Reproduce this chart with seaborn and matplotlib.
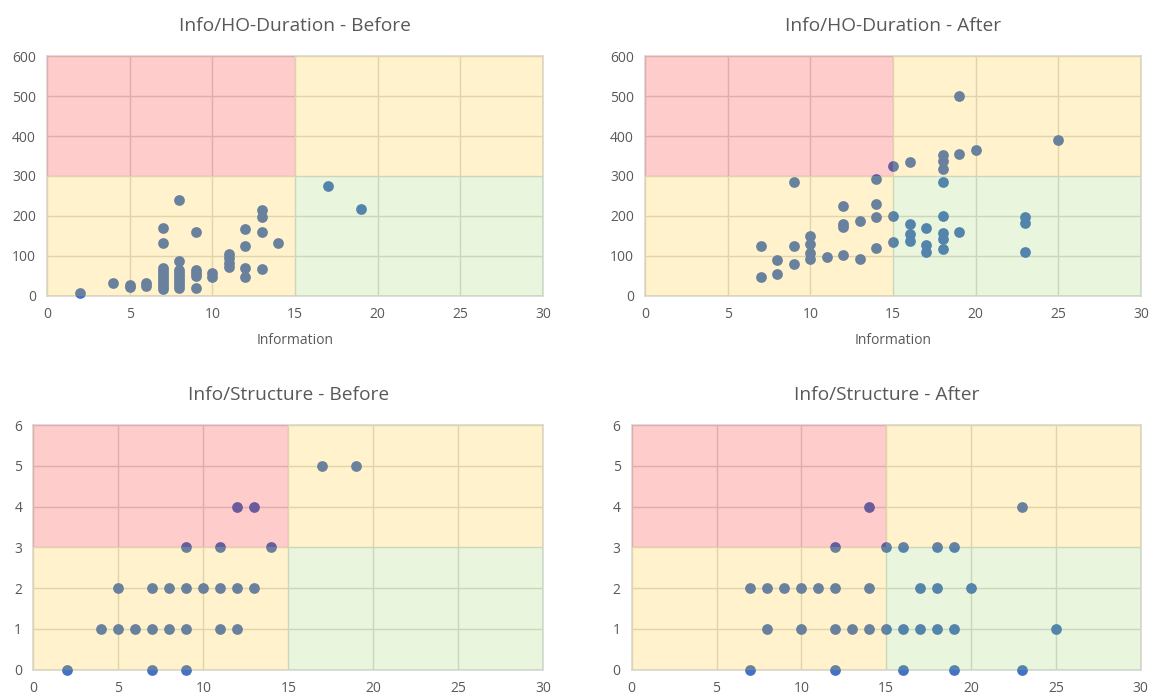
import matplotlib.pyplot as plt
import pandas as pd
import seaborn as sns
from matplotlib.patches import Rectangle

sns.set_theme(style='white')
plt.rcParams['font.family'] = ['Open Sans', 'DejaVu Sans']

# Info / HO-Duration - Before
dur_before_x = [2, 4, 5, 5, 6, 6,
                7, 7, 7, 7, 7, 7, 7, 7, 7, 7,
                8, 8, 8, 8, 8, 8, 8, 8, 8,
                9, 9, 9, 9, 9,
                10, 10,
                11, 11, 11, 11,
                12, 12, 12, 12,
                13, 13, 13, 13,
                14, 17, 19]
dur_before_y = [8, 32, 22, 28, 25, 32,
                170, 132, 70, 62, 55, 48, 40, 32, 25, 18,
                240, 87, 65, 58, 50, 42, 35, 28, 20,
                160, 65, 58, 50, 20,
                57, 47,
                105, 95, 82, 72,
                168, 125, 70, 48,
                215, 198, 160, 67,
                133, 275, 217]

# Info / HO-Duration - After
dur_after_x = [7, 7, 8, 8, 9, 9, 9,
               10, 10, 10, 10, 11,
               12, 12, 12, 12, 13, 13,
               14, 14, 14, 14, 15, 15, 15,
               16, 16, 16, 16, 17, 17, 17,
               18, 18, 18, 18, 18, 18, 18, 18,
               19, 19, 19, 20, 23, 23, 23, 25]
dur_after_y = [48, 125, 55, 90, 285, 125, 80,
               150, 130, 108, 92, 97,
               226, 180, 172, 102, 188, 92,
               292, 230, 198, 121, 325, 200, 135,
               335, 180, 155, 137, 170, 128, 110,
               352, 338, 317, 285, 200, 158, 142, 118,
               500, 355, 160, 366, 198, 182, 110, 390]

# Info / Structure - Before
struct_before_x = [17, 19, 12, 13, 9, 11, 14,
                   5, 7, 8, 9, 10, 11, 12, 13,
                   4, 5, 6, 7, 8, 9, 11, 12,
                   2, 7, 9]
struct_before_y = [5, 5, 4, 4, 3, 3, 3,
                   2, 2, 2, 2, 2, 2, 2, 2,
                   1, 1, 1, 1, 1, 1, 1, 1,
                   0, 0, 0]

# Info / Structure - After
struct_after_x = [14, 23,
                  12, 15, 16, 18, 19,
                  7, 8, 9, 10, 11, 12, 14, 17, 18, 20,
                  8, 10, 12, 13, 14, 15, 16, 17, 18, 19, 25,
                  7, 12, 16, 19, 23]
struct_after_y = [4, 4,
                  3, 3, 3, 3, 3,
                  2, 2, 2, 2, 2, 2, 2, 2, 2, 2,
                  1, 1, 1, 1, 1, 1, 1, 1, 1, 1, 1,
                  0, 0, 0, 0, 0]

GREY = '#595959'
POINT = '#4472C4'


def draw_panel(ax, xs, ys, title, ymax, ystep, xlabel=None):
    df = pd.DataFrame({'x': xs, 'y': ys})
    sns.scatterplot(data=df, x='x', y='y', ax=ax, color=POINT, s=60,
                    linewidth=0, zorder=3, clip_on=False)
    ysplit = ymax / 2
    # coloured zones laid over the points, like the original
    ax.add_patch(Rectangle((0, ysplit), 15, ymax - ysplit,
                           color='#FF0000', alpha=0.2, lw=0, zorder=5))
    ax.add_patch(Rectangle((0, 0), 15, ysplit,
                           color='#FFC000', alpha=0.2, lw=0, zorder=5))
    ax.add_patch(Rectangle((15, ysplit), 15, ymax - ysplit,
                           color='#FFC000', alpha=0.2, lw=0, zorder=5))
    ax.add_patch(Rectangle((15, 0), 15, ysplit,
                           color='#92D050', alpha=0.2, lw=0, zorder=5))
    ax.set_xlim(0, 30)
    ax.set_ylim(0, ymax)
    ax.set_xticks(range(0, 31, 5))
    ax.set_yticks([ystep * i for i in range(int(ymax / ystep) + 1)])
    ax.grid(True, color='#d9d9d9', lw=1)
    ax.set_axisbelow(True)
    for sp in ax.spines.values():
        sp.set_color('#d9d9d9')
    ax.tick_params(length=0, labelsize=10, labelcolor=GREY, pad=8)
    ax.set_title(title, fontsize=13.8, color=GREY, pad=18)
    ax.set_xlabel(xlabel if xlabel else '', fontsize=10, color=GREY,
                  labelpad=8)
    ax.set_ylabel('')


fig = plt.figure(figsize=(11.5, 6.94), dpi=100)
ax1 = fig.add_axes([0.0409, 0.5735, 0.4313, 0.3458])
ax2 = fig.add_axes([0.5609, 0.5735, 0.4313, 0.3458])
ax3 = fig.add_axes([0.0290, 0.0350, 0.4435, 0.3526])
ax4 = fig.add_axes([0.5493, 0.0350, 0.4426, 0.3526])

draw_panel(ax1, dur_before_x, dur_before_y, 'Info/HO-Duration - Before',
           600, 100, 'Information')
draw_panel(ax2, dur_after_x, dur_after_y, 'Info/HO-Duration - After',
           600, 100, 'Information')
draw_panel(ax3, struct_before_x, struct_before_y, 'Info/Structure - Before',
           6, 1)
draw_panel(ax4, struct_after_x, struct_after_y, 'Info/Structure - After',
           6, 1)

plt.savefig('out.png', dpi=100)
